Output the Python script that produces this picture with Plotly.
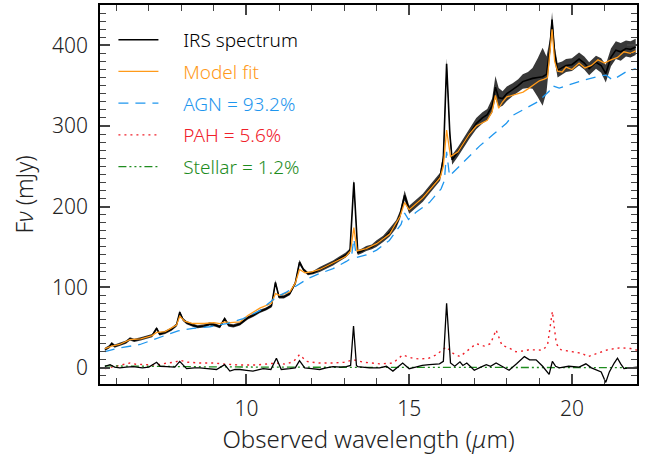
import plotly.graph_objects as go

# ---------------- data ----------------
spec_wl = [5.65, 5.78, 5.86, 5.95, 6.10, 6.30, 6.42, 6.55, 6.75, 6.95, 7.10, 7.24, 7.33, 7.50,
           7.70, 7.85, 7.95, 8.05, 8.16, 8.35, 8.50, 8.70, 8.87, 9.05, 9.18, 9.33, 9.45, 9.60,
           9.80, 10.04, 10.20, 10.41, 10.60, 10.77, 10.89, 11.00, 11.15, 11.33, 11.50, 11.63,
           11.75, 11.89, 12.05, 12.25, 12.45, 12.66, 12.85, 13.05, 13.18, 13.30, 13.42, 13.55,
           13.68, 13.85, 13.99, 14.20, 14.40, 14.60, 14.72, 14.86, 15.00, 15.20, 15.42, 15.60,
           15.80, 15.95, 16.05, 16.15, 16.25, 16.32, 16.50, 16.64, 16.85, 17.06, 17.25, 17.40,
           17.55, 17.65, 17.75, 17.87, 18.00, 18.18, 18.35, 18.49, 18.65, 18.79, 18.95, 19.10,
           19.22, 19.32, 19.39, 19.47, 19.56, 19.70, 19.82, 20.00, 20.22, 20.38, 20.53, 20.74,
           20.90, 21.04, 21.20, 21.35, 21.50, 21.66, 21.80, 21.96]
spec_flux = [23, 26, 30, 27, 29, 32, 36, 34, 36, 38, 40, 49, 42, 44,
             48, 53, 69, 60, 56, 53, 51, 52, 54.5, 53, 51, 61, 53, 52,
             54.5, 62, 65, 70, 73, 77, 106, 88, 88, 92, 105, 131,
             122, 117, 118, 122, 126, 130, 135, 140, 145, 230, 143, 145,
             148, 150, 154, 160, 168, 178, 190, 214, 196, 203, 211, 220,
             230, 237, 260, 377, 290, 258, 268, 277, 290, 303, 310, 314,
             325, 348, 335, 334, 340, 345, 350, 355, 357, 359, 360, 361,
             364, 395, 432, 390, 369, 372, 375, 376, 383, 378, 371, 379,
             375, 365, 385, 394, 392, 396, 395, 398]
spec_err = [2, 2, 2, 2, 2, 2, 2, 2, 2, 2, 2, 2, 2, 2,
            2, 2, 2, 2, 2, 2, 2, 2, 2, 2, 2, 2, 2, 2,
            2, 2, 2, 2, 2, 2, 3, 2, 2, 2, 2, 3,
            2, 2, 2, 3, 3, 3, 3, 3, 3, 4, 3, 3,
            3, 3, 4, 4, 5, 5, 5, 6, 5, 5, 5, 5,
            5, 5, 6, 7, 6, 6, 6, 6, 6, 7, 7, 7,
            9, 14, 12, 9, 9, 8, 8, 9, 10, 13, 24, 36,
            22, 12, 9, 9, 9, 8, 8, 8, 8, 8, 8, 8,
            9, 11, 11, 11, 11, 10, 10, 10]

model_wl = [5.65, 5.86, 6.10, 6.42, 6.75, 7.10, 7.24, 7.50, 7.85, 7.95, 8.10, 8.35, 8.70, 9.00,
            9.18, 9.33, 9.50, 9.80, 10.04, 10.41, 10.77, 10.89, 11.02, 11.33, 11.50, 11.63,
            11.80, 12.00, 12.25, 12.66, 13.05, 13.20, 13.30, 13.40, 13.68, 14.00, 14.40, 14.72,
            14.86, 15.00, 15.42, 15.95, 16.05, 16.15, 16.27, 16.50, 16.85, 17.06, 17.40, 17.55,
            17.65, 17.75, 17.87, 18.00, 18.18, 18.35, 18.50, 18.65, 18.85, 19.00, 19.15, 19.25,
            19.32, 19.39, 19.47, 19.56, 19.70, 19.82, 20.00, 20.22, 20.40, 20.60, 20.80, 21.00,
            21.20, 21.40, 21.60, 21.80, 21.96]
model_flux = [24, 27, 29, 35, 36, 40, 44, 45, 53, 64, 58, 55, 55, 56,
              55, 57, 56, 57, 65, 74, 80, 92, 90, 94, 105, 122,
              118, 119, 122, 130, 138, 145, 174, 145, 148, 154, 166, 188,
              205, 196, 211, 236, 250, 295, 262, 268, 290, 300, 307, 318,
              338, 322, 330, 336, 338, 340, 342, 346, 352, 356, 358, 360,
              390, 420, 380, 368, 367, 373, 370, 378, 372, 375, 382, 378,
              382, 385, 392, 390, 393]

agn_wl = [5.65, 6.00, 6.73, 7.20, 7.55, 7.90, 8.36, 8.87, 9.39, 9.90, 10.41, 10.92, 11.23,
          11.64, 11.90, 12.25, 12.66, 13.07, 13.22, 13.30, 13.38, 13.68, 14.00, 14.39, 14.75,
          14.86, 14.98, 15.21, 15.62, 15.98, 16.08, 16.15, 16.24, 16.64, 17.16, 17.57, 17.98,
          18.18, 18.64, 18.95, 19.30, 19.39, 19.61, 20.22, 20.84, 21.05, 21.25, 21.66, 21.96]
agn_flux = [20, 24, 29, 36, 41, 46, 49, 51, 55, 61, 71, 88, 94,
            104, 111, 117, 123, 132, 136, 160, 137, 140, 146, 158, 178,
            192, 184, 193, 205, 222, 232, 268, 238, 254, 275, 289, 303,
            313, 323, 330, 343, 350, 347, 355, 362, 363, 357, 367, 371]

pah_wl = [5.65, 5.90, 6.20, 6.42, 6.60, 7.00, 7.24, 7.55, 7.80, 7.95, 8.20, 8.60, 9.00, 9.39,
          9.80, 10.30, 10.60, 10.92, 11.20, 11.45, 11.63, 11.85, 12.20, 12.66, 13.00, 13.29,
          13.60, 14.09, 14.50, 14.80, 15.10, 15.32, 15.60, 15.83, 16.14, 16.35, 16.56, 16.80,
          17.06, 17.30, 17.50, 17.67, 17.85, 18.05, 18.28, 18.50, 18.69, 19.10, 19.25, 19.40,
          19.52, 19.66, 19.90, 20.10, 20.30, 20.50, 20.80, 21.10, 21.50, 21.80, 22.00]
pah_flux = [-1, 1, 4, 6, 4.5, 3.5, 3.5, 6, 7, 9.5, 7, 6, 6, 4.5,
            3.5, 3.5, 4.5, 6, 4.5, 8, 16.4, 8, 6, 6, 7, 10,
            7, 5, 6, 16, 12, 11, 12, 16, 26, 18, 14, 22,
            30, 27, 30, 47, 28, 25, 20, 21, 22.5, 22, 28, 70,
            30, 22.5, 21, 20, 18, 14, 18, 22.5, 25, 24, 22]

stellar_wl = [5.65, 7.0, 9.0, 12.0, 16.0, 22.0]
stellar_flux = [2.5, 1.8, 1.2, 0.8, 0.5, 0.3]

resid_wl = [5.65, 5.81, 5.95, 6.11, 6.30, 6.52, 6.80, 7.00, 7.24, 7.35, 7.55, 7.80, 7.95, 8.16,
            8.40, 8.57, 8.80, 9.08, 9.33, 9.49, 9.65, 9.80, 10.00, 10.20, 10.51, 10.75, 10.92,
            11.07, 11.33, 11.50, 11.63, 11.79, 12.00, 12.25, 12.45, 12.66, 12.90, 13.07, 13.20,
            13.29, 13.38, 13.42, 13.78, 14.09, 14.30, 14.50, 14.80, 15.00, 15.20, 15.40, 15.62,
            15.93, 16.05, 16.15, 16.27, 16.40, 16.56, 16.65, 16.77, 17.00, 17.20, 17.37, 17.50,
            17.67, 17.85, 18.07, 18.30, 18.54, 18.70, 18.90, 19.10, 19.30, 19.40, 19.50, 19.61,
            19.90, 20.22, 20.43, 20.60, 20.73, 20.90, 21.04, 21.15, 21.30, 21.40, 21.50, 21.60,
            21.80, 22.00]
resid_flux = [2, 4, 1, 0, 1, 1.5, 0, 1, 7, 2, 1.5, 1, 8, -1,
              0, 0, -1, -2, 4, -4, -2, -2, -3, -4, -1, -2, 12,
              -2, -1, 0, 9, 0, -1, -2, 0, 1.5, 1, 1.5, 3,
              52, 3, 1.5, 0, 0, 2, -4, 6, -1, 1, 3, 4,
              5, 8, 80, 6, 2, 7.5, 3, 6, -3, 1, 4, 2,
              6, 2, -3, 5, 14, 10, 10, 2, -8, 8, 2, 0,
              2, 1, 5, 0, -2, -5, -18, -5, 6, 12, 5, -1,
              0, 1]

legend_names = ["IRS spectrum", "Model fit", "AGN = 93.2%", "PAH = 5.6%", "Stellar = 1.2%"]

# ---------------- figure ----------------
BLACK = "#000000"
ORANGE = "#FF9A1A"
BLUE = "#1E96EE"
RED = "#F0202A"
GREEN = "#1E8C1E"
FONT = "Noto Sans"
TXT = "#222222"

upper = [f + e for f, e in zip(spec_flux, spec_err)]
lower = [f - e for f, e in zip(spec_flux, spec_err)]

fig = go.Figure()

# error band
fig.add_trace(go.Scatter(x=spec_wl, y=upper, mode="lines", line=dict(width=0, color="#333"),
                         showlegend=False, hoverinfo="skip"))
fig.add_trace(go.Scatter(x=spec_wl, y=lower, mode="lines", line=dict(width=0, color="#333"),
                         fill="tonexty", fillcolor="rgba(45,45,45,0.95)",
                         showlegend=False, hoverinfo="skip"))

NB = "\u00a0\u00a0\u00a0\u00a0"

def lname(txt, col):
    return f"{NB}<span style='color:{col}'>{txt}</span>"

fig.add_trace(go.Scatter(x=spec_wl, y=spec_flux, mode="lines", line=dict(color=BLACK, width=1.6),
                         name=lname(legend_names[0], BLACK), legendgroup="a"))
fig.add_trace(go.Scatter(x=model_wl, y=model_flux, mode="lines", line=dict(color=ORANGE, width=1.3),
                         name=lname(legend_names[1], ORANGE), legendgroup="b"))
fig.add_trace(go.Scatter(x=agn_wl, y=agn_flux, mode="lines",
                         line=dict(color=BLUE, width=1.3, dash="10px,7px"),
                         name=lname(legend_names[2], BLUE), legendgroup="c"))
fig.add_trace(go.Scatter(x=pah_wl, y=pah_flux, mode="lines",
                         line=dict(color=RED, width=1.4, dash="2px,4px"),
                         name=lname(legend_names[3], RED), legendgroup="d"))
fig.add_trace(go.Scatter(x=stellar_wl, y=stellar_flux, mode="lines",
                         line=dict(color=GREEN, width=1.3, dash="8px,3px,2px,3px,2px,3px,2px,3px"),
                         name=lname(legend_names[4], GREEN), legendgroup="e"))
fig.add_trace(go.Scatter(x=resid_wl, y=resid_flux, mode="lines", line=dict(color=BLACK, width=1.3),
                         showlegend=False, hoverinfo="skip"))

axis_common = dict(
    showline=True, linecolor="black", linewidth=1.5, mirror="ticks",
    ticks="inside", tickcolor="#444", tickwidth=1.5, ticklen=10,
    showgrid=False, zeroline=False,
    tickfont=dict(family=FONT, size=21, color=TXT, weight=300),
)

fig.update_xaxes(range=[5.5, 22.0], tickvals=[10, 15, 20], ticklabelstandoff=5,
                 minor=dict(ticks="inside", dtick=1, tick0=0, ticklen=6, tickcolor="#444", tickwidth=1.3),
                 title=dict(text="Observed wavelength (<i>μ</i>m)",
                            font=dict(family=FONT, size=24, color=TXT, weight=300), standoff=5),
                 **axis_common)
fig.update_yaxes(range=[-20, 450], tickvals=[0, 100, 200, 300, 400], ticklabelstandoff=6,
                 minor=dict(ticks="inside", dtick=10, tick0=0, ticklen=6, tickcolor="#444", tickwidth=1.3),
                 title=dict(text="F<i>ν</i> (mJy)", font=dict(family=FONT, size=23, color=TXT, weight=300),
                            standoff=12),
                 **axis_common)

fig.update_layout(
    width=652, height=455,
    margin=dict(l=100, r=15, t=3, b=71),
    paper_bgcolor="white", plot_bgcolor="white",
    showlegend=True,
    legend=dict(x=0.025, y=0.958, xanchor="left", yanchor="top", bgcolor="rgba(0,0,0,0)",
                font=dict(family=FONT, size=19, color=TXT, weight=300), tracegroupgap=4,
                traceorder="grouped", itemwidth=40),
)

fig.write_html("out.html")
